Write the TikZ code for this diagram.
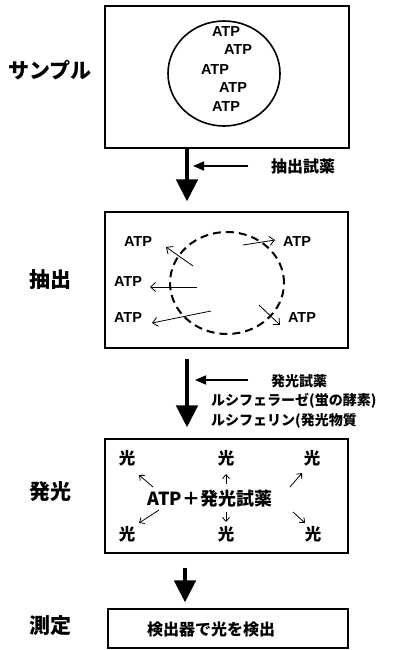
\documentclass[tikz,border=0pt]{standalone}
\usepackage{fontspec}
\setmainfont{Liberation Sans}
\newfontfamily\jp{Noto Sans CJK JP}
\usetikzlibrary{arrows.meta,shapes.geometric}
\begin{document}
\begin{tikzpicture}[x=1pt,y=-1pt,
  stagebox/.style={draw,line width=1.1pt,inner sep=0pt},
  steplbl/.style={font=\jp\bfseries\fontsize{21}{21}\selectfont,inner sep=0pt},
  atp/.style={font=\bfseries\fontsize{14.5}{14.5}\selectfont,inner sep=0pt},
  hikari/.style={font=\jp\bfseries\fontsize{16.5}{16.5}\selectfont,inner sep=0pt},
  reag/.style={font=\jp\bfseries\fontsize{14}{14}\selectfont,inner sep=0pt,anchor=west},
  bigarrow/.style={line width=4.5pt,-{Triangle[length=22pt,width=21pt]}},
  smallarrow/.style={line width=1.6pt,-{Triangle[length=11pt,width=9pt]}},
  thinarrow/.style={line width=0.8pt,-{Straight Barb[length=5pt,width=9pt]}},
  tinyarrow/.style={line width=0.8pt,-{Straight Barb[length=4pt,width=7pt]}}]
\useasboundingbox (0,0) rectangle (392,650);

% stage labels
\node[steplbl] (l1) at (50,70) {サンプル};
\node[steplbl] (l2) at (50,280) {抽出};
\node[steplbl] (l3) at (50,492) {発光};
\node[steplbl] (l4) at (50,626) {測定};

% boxes
\node[stagebox,minimum width=244pt,minimum height=142pt] (b1) at (227,77) {};
\node[stagebox,minimum width=243pt,minimum height=136pt] (b2) at (226.5,280) {};
\node[stagebox,minimum width=243pt,minimum height=114pt] (b3) at (226.5,496) {};
\node[stagebox,minimum width=240pt,minimum height=39pt] (b4) at (228,628.5) {};

% box 1: cell
\node[draw,line width=1.6pt,ellipse,minimum width=112pt,minimum height=105pt,inner sep=0pt] (cell) at (224,73.5) {};
\node[atp] (a1) at (226,32) {ATP};
\node[atp] (a2) at (238,50) {ATP};
\node[atp] (a3) at (215,70) {ATP};
\node[atp] (a4) at (233,88) {ATP};
\node[atp] (a5) at (226,107) {ATP};

% arrow 1
\coordinate (x1) at (187,0);
\draw[bigarrow,shorten >=10pt] (b1.south -| x1) -- (b2.north -| x1);
\node[reag,font=\jp\bfseries\fontsize{16}{16}\selectfont] (r1) at (271,166) {抽出試薬};
\coordinate (r1s) at (248,166);
\coordinate (r1e) at (193,166);
\draw[smallarrow] (r1s) -- (r1e);

% box 2: broken cell
\draw[line width=2pt,dash pattern=on 8pt off 5pt] (227,283) ellipse [x radius=57pt,y radius=51pt];
\node[atp] (c1) at (138,242) {ATP};
\node[atp] (c2) at (297,242) {ATP};
\node[atp] (c3) at (128,282) {ATP};
\node[atp] (c4) at (128,318) {ATP};
\node[atp] (c5) at (302,318) {ATP};
\coordinate (e1) at (193,266); \coordinate (t1) at (166,247);
\coordinate (e2) at (243,245); \coordinate (t2) at (275,240);
\coordinate (e3) at (197,287); \coordinate (t3) at (150,287);
\coordinate (e4) at (211,311); \coordinate (t4) at (152,323);
\coordinate (e5) at (259,305); \coordinate (t5) at (280,325);
\draw[thinarrow] (e1) -- (t1);
\draw[thinarrow] (e2) -- (t2);
\draw[thinarrow] (e3) -- (t3);
\draw[thinarrow] (e4) -- (t4);
\draw[thinarrow] (e5) -- (t5);

% arrow 2
\draw[bigarrow,shorten <=10pt,shorten >=11pt] (b2.south -| x1) -- (b3.north -| x1);
\node[reag] (r2) at (271,381) {発光試薬};
\node[reag] (r3) at (211,401) {ルシフェラーゼ(蛍の酵素)};
\node[reag] (r4) at (211,421) {ルシフェリン(発光物質};
\coordinate (r2s) at (248,380);
\coordinate (r2e) at (195,380);
\draw[smallarrow] (r2s) -- (r2e);

% box 3: light
\node[font=\jp\bfseries\fontsize{18}{18}\selectfont,inner sep=0pt] (mix) at (210,499) {ATP＋発光試薬};
\node[hikari] (h1) at (127,458) {光};
\node[hikari] (h2) at (226,458) {光};
\node[hikari] (h3) at (312,458) {光};
\node[hikari] (h4) at (127,534) {光};
\node[hikari] (h5) at (226,534) {光};
\node[hikari] (h6) at (313,534) {光};
\coordinate (f1) at (153,487); \coordinate (g1) at (139,475);
\coordinate (f2) at (226,484); \coordinate (g2) at (226,474);
\coordinate (f3) at (290,487); \coordinate (g3) at (302,473);
\coordinate (f4) at (159,510); \coordinate (g4) at (139,523);
\coordinate (f5) at (226,512); \coordinate (g5) at (226,522);
\coordinate (f6) at (293,512); \coordinate (g6) at (305,523);
\draw[tinyarrow] (f1) -- (g1);
\draw[tinyarrow] (f2) -- (g2);
\draw[tinyarrow] (f3) -- (g3);
\draw[tinyarrow] (f4) -- (g4);
\draw[tinyarrow] (f5) -- (g5);
\draw[tinyarrow] (f6) -- (g6);

% arrow 3
\coordinate (x3) at (185,0);
\draw[bigarrow,shorten <=14pt,shorten >=6pt] (b3.south -| x3) -- (b4.north -| x3);

% box 4
\node[font=\jp\bfseries\fontsize{16}{16}\selectfont,inner sep=0pt] (det) at (211,629) {検出器で光を検出};
\end{tikzpicture}
\end{document}
